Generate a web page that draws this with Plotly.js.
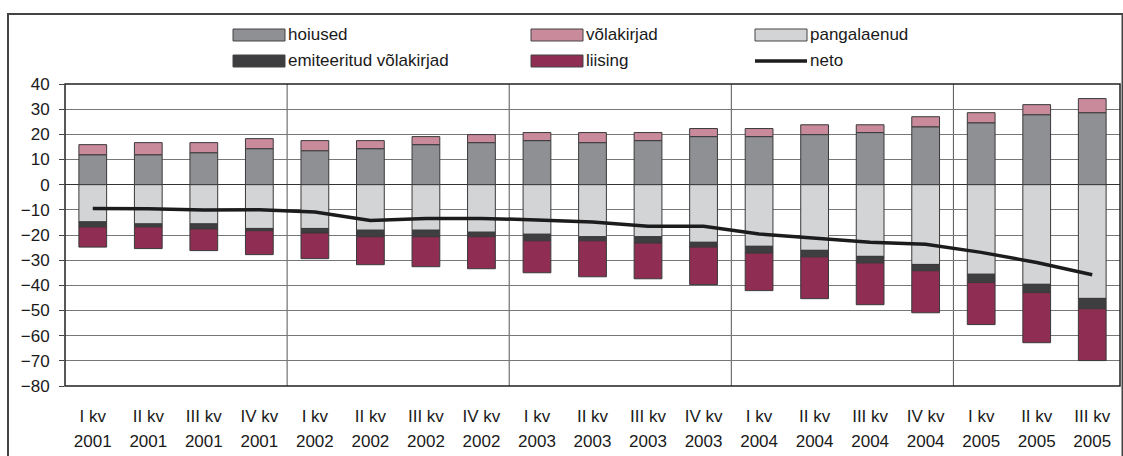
<!DOCTYPE html>
<html>
<head>
<meta charset="utf-8">
<script src="https://cdn.plot.ly/plotly-3.0.1.min.js"></script>
<style>
html,body{margin:0;padding:0;background:#fff;}
#chart{width:1123px;height:456px;}
</style>
</head>
<body>
<div id="chart"></div>
<script>
var quarters = ["I kv","II kv","III kv","IV kv",
  "I kv","II kv","III kv","IV kv",
  "I kv","II kv","III kv","IV kv",
  "I kv","II kv","III kv","IV kv",
  "I kv","II kv","III kv"];
var years = ["2001","2001","2001","2001","2002","2002","2002","2002",
  "2003","2003","2003","2003","2004","2004","2004","2004","2005","2005","2005"];
var hoiused = [11.9,11.9,12.7,14.3,13.5,14.3,15.9,16.7,17.5,16.7,17.5,19.1,19.1,19.9,20.7,23.0,24.6,27.8,28.6];
var volakirjad = [4.0,4.8,4.0,4.0,4.0,3.2,3.2,3.2,3.2,4.0,3.2,3.2,3.2,3.9,3.1,4.0,4.0,4.0,5.6];
var pangalaenud = [-14.8,-15.6,-15.6,-17.4,-17.4,-18.1,-18.1,-18.9,-19.7,-20.7,-20.7,-22.9,-24.5,-26.1,-28.5,-31.7,-35.6,-39.6,-45.2];
var emiteeritud = [-2.0,-1.2,-2.0,-0.9,-1.8,-2.6,-2.6,-1.8,-2.6,-1.6,-2.5,-1.9,-2.7,-2.6,-2.6,-2.5,-3.3,-3.3,-4.1];
var liising = [-8.0,-8.6,-8.6,-9.5,-10.2,-11.1,-11.9,-12.7,-12.7,-14.3,-14.2,-14.9,-14.9,-16.6,-16.6,-16.7,-16.7,-19.9,-20.6];
var neto = [-9.5,-9.6,-10.1,-10.0,-10.9,-14.2,-13.4,-13.4,-14.0,-14.8,-16.5,-16.5,-19.6,-21.3,-22.9,-23.7,-26.9,-30.9,-35.8];
var yearSeparators = [3.5, 7.5, 11.5, 15.5];

var names = ["hoiused","võlakirjad","pangalaenud","emiteeritud võlakirjad","liising","neto"];
var colors = {hoiused:"#8f9094", volakirjad:"#c98a9c", pangalaenud:"#d3d4d6", emiteeritud:"#3e3e40", liising:"#8f2d53", neto:"#1c1c1c"};

var xs = quarters.map(function(c, i){ return i; });
var outline = {color:"#3a3a3a", width:1};
function bar(name, vals, col){
  return {type:"bar", name:name, x:xs, y:vals, marker:{color:col, line:outline}, showlegend:false};
}
var data = [
  bar(names[0], hoiused, colors.hoiused),
  bar(names[1], volakirjad, colors.volakirjad),
  bar(names[2], pangalaenud, colors.pangalaenud),
  bar(names[3], emiteeritud, colors.emiteeritud),
  bar(names[4], liising, colors.liising),
  {type:"scatter", mode:"lines", name:names[5], x:xs, y:neto, line:{color:colors.neto, width:3.5}, showlegend:false},
  {type:"scatter", mode:"none", x:xs, y:neto, xaxis:"x2", hoverinfo:"skip", showlegend:false}
];

// layout geometry (pixels)
var W = 1123, H = 456, L = 65, R = 3, T = 84, B = 70;
var PW = W - L - R, PH = H - T - B;
function px(x){ return (x - L) / PW; }
function py(y){ return (H - B - y) / PH; }

var shapes = [];
yearSeparators.forEach(function(s){
  shapes.push({type:"line", xref:"x", yref:"paper", x0:s, x1:s, y0:0, y1:1, line:{color:"#555", width:1}, layer:"below"});
});
// plot border
shapes.push({type:"rect", xref:"paper", yref:"paper", x0:0, x1:1, y0:0, y1:1, line:{color:"#222", width:1.5}});
// outer frame
shapes.push({type:"rect", xref:"paper", yref:"paper", x0:px(8), x1:px(1122.5), y0:py(470), y1:py(14), line:{color:"#444", width:2}});

// custom legend
var legendItems = [
  {name:names[0], col:colors.hoiused, x:233, y:35, kind:"rect"},
  {name:names[1], col:colors.volakirjad, x:531, y:35, kind:"rect"},
  {name:names[2], col:colors.pangalaenud, x:755, y:35, kind:"rect"},
  {name:names[3], col:colors.emiteeritud, x:233, y:61, kind:"rect"},
  {name:names[4], col:colors.liising, x:531, y:61, kind:"rect"},
  {name:names[5], col:colors.neto, x:755, y:61, kind:"line"}
];
var annotations = [];
legendItems.forEach(function(it){
  if (it.kind === "rect") {
    shapes.push({type:"rect", xref:"paper", yref:"paper", x0:px(it.x), x1:px(it.x+52), y0:py(it.y+6), y1:py(it.y-6), fillcolor:it.col, line:{color:"#444", width:1}});
  } else {
    shapes.push({type:"line", xref:"paper", yref:"paper", x0:px(it.x), x1:px(it.x+52), y0:py(it.y), y1:py(it.y), line:{color:it.col, width:3.5}});
  }
  annotations.push({xref:"paper", yref:"paper", x:px(it.x+53), y:py(it.y), xanchor:"left", yanchor:"middle", text:it.name, showarrow:false, font:{family:"Liberation Sans, Arial, sans-serif", size:17, color:"#1a1a1a"}});
});

var axisCommon = {range:[-0.5, 18.5], tickmode:"array", tickvals:xs, showgrid:false, zeroline:false, showline:false, ticks:"", fixedrange:true};
var layout = {
  width:W, height:H,
  margin:{l:L, r:R, t:T, b:B, pad:0},
  paper_bgcolor:"#fff", plot_bgcolor:"#fff",
  barmode:"relative", bargap:0.5,
  font:{family:"Liberation Sans, Arial, sans-serif", size:17, color:"#1a1a1a"},
  showlegend:false,
  xaxis:Object.assign({}, axisCommon, {ticktext:quarters, ticklabelstandoff:18}),
  xaxis2:Object.assign({}, axisCommon, {ticktext:years, ticklabelstandoff:43, overlaying:"x", side:"bottom", anchor:"y"}),
  yaxis:{range:[-80, 40], dtick:10, tick0:0, showgrid:true, gridcolor:"#777", gridwidth:1, zeroline:true, zerolinecolor:"#333", zerolinewidth:1, ticks:"outside", ticklen:5, tickcolor:"#444", ticklabelstandoff:6, showline:false, fixedrange:true},
  shapes:shapes,
  annotations:annotations
};
Plotly.newPlot("chart", data, layout, {displayModeBar:false, staticPlot:true});
</script>
</body>
</html>
